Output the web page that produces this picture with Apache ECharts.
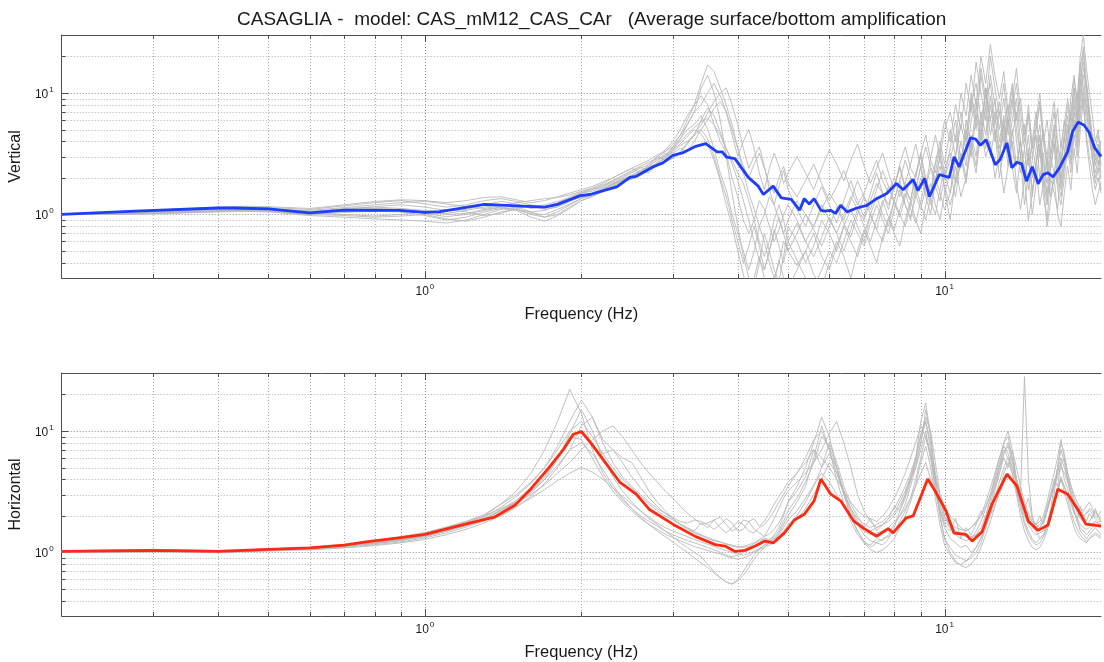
<!DOCTYPE html>
<html>
<head>
<meta charset="utf-8">
<script src="https://cdn.jsdelivr.net/npm/echarts@6/dist/echarts.min.js"></script>
<style>
  html, body { margin: 0; padding: 0; background: #fff; overflow: hidden; }
  #main { width: 1104px; height: 662px; }
</style>
</head>
<body>
<div id="main"></div>
<script>
// ---- labels ----
const titleText = 'CASAGLIA -  model: CAS_mM12_CAS_CAr   (Average surface/bottom amplification';
const freqAxisName = 'Frequency (Hz)';
const panelNames = ['Vertical', 'Horizontal'];

// ---- axis ranges and grid positions (log axes) ----
const freqRange = [0.2, 20];
const ampRange = [0.3, 30];
const decades = [1, 10];
const freqGridLines = [0.3, 0.4, 0.5, 0.6, 0.7, 0.8, 0.9, 1, 2, 3, 4, 5, 6, 7, 8, 9, 10];
const ampGridLines = [0.4, 0.5, 0.6, 0.7, 0.8, 0.9, 1, 2, 3, 4, 5, 6, 7, 8, 9, 10, 20];

// ---- average amplification curves [frequency Hz, amplification] ----
const verticalMean = [
  [0.2, 1.0], [0.277, 1.065], [0.4, 1.13], [0.43, 1.13], [0.5, 1.11], [0.6, 1.03], [0.7, 1.085],
  [0.89, 1.08], [1.0, 1.04], [1.063, 1.05], [1.3, 1.21], [1.7, 1.15], [1.8, 1.21], [1.99, 1.43],
  [2.08, 1.46], [2.24, 1.6], [2.34, 1.69], [2.48, 2.02], [2.55, 2.06], [2.75, 2.47], [2.87, 2.66],
  [3.0, 3.07], [3.13, 3.21], [3.32, 3.64], [3.47, 3.83], [3.65, 3.28], [3.73, 3.28], [3.81, 2.96],
  [3.95, 2.88], [4.19, 2.02], [4.38, 1.71], [4.48, 1.46], [4.68, 1.71], [4.85, 1.37], [5.07, 1.33],
  [5.26, 1.085], [5.37, 1.35], [5.49, 1.22], [5.61, 1.35], [5.78, 1.085], [5.86, 1.065], [6.04, 1.08],
  [6.17, 1.02], [6.31, 1.19], [6.49, 1.05], [6.78, 1.13], [7.09, 1.19], [7.4, 1.35], [7.74, 1.49],
  [8.08, 1.8], [8.32, 1.6], [8.7, 1.94], [8.89, 1.57], [9.15, 1.98], [9.35, 1.4], [9.77, 2.13],
  [10.21, 2.02], [10.43, 2.98], [10.67, 2.47], [11.22, 4.27], [11.47, 4.18], [11.72, 3.71], [12.02, 4.13],
  [12.52, 2.57], [12.79, 2.83], [13.18, 3.88], [13.47, 2.42], [13.77, 2.69], [14.07, 2.61], [14.38, 1.88],
  [14.75, 2.47], [15.14, 1.79], [15.47, 2.13], [15.81, 2.2], [16.17, 2.04], [16.64, 2.42], [17.26, 3.31],
  [17.64, 4.83], [18.08, 5.77], [18.56, 5.42], [18.97, 4.75], [19.45, 3.53], [20.0, 3.0]
];
const horizontalMean = [
  [0.2, 1.02], [0.3, 1.04], [0.4, 1.02], [0.5, 1.06], [0.6, 1.09], [0.7, 1.15], [0.77, 1.22],
  [0.89, 1.32], [1.0, 1.41], [1.11, 1.58], [1.23, 1.76], [1.36, 1.95], [1.49, 2.45], [1.6, 3.35],
  [1.72, 4.8], [1.85, 7.1], [1.93, 9.4], [2.0, 9.9], [2.08, 8.1], [2.21, 5.7], [2.37, 3.8],
  [2.55, 3.02], [2.7, 2.27], [3.0, 1.71], [3.32, 1.35], [3.62, 1.16], [3.78, 1.13], [3.95, 1.02],
  [4.13, 1.04], [4.32, 1.13], [4.51, 1.24], [4.68, 1.2], [4.92, 1.45], [5.14, 1.85], [5.37, 2.06],
  [5.61, 2.66], [5.78, 4.02], [6.04, 3.02], [6.31, 2.66], [6.69, 1.81], [6.99, 1.58], [7.4, 1.36],
  [7.79, 1.57], [7.96, 1.45], [8.44, 1.93], [8.7, 2.0], [9.28, 4.02], [9.63, 3.11], [10.06, 2.2],
  [10.43, 1.44], [10.98, 1.41], [11.3, 1.24], [11.81, 1.48], [12.34, 2.5], [13.18, 4.42], [13.77, 3.54],
  [14.49, 1.81], [15.14, 1.52], [15.81, 1.68], [16.52, 3.32], [17.26, 3.02], [18.04, 2.27], [18.7, 1.71],
  [19.39, 1.68], [20.0, 1.65]
];

// ---- individual records, sampled at spectrumFreqs ----
const spectrumFreqs = [
  0.2, 0.25, 0.3, 0.35, 0.4, 0.45, 0.5,
  0.6, 0.7, 0.8, 0.9, 1.0, 1.1, 1.2, 1.3, 1.4, 1.5, 1.6, 1.7, 1.8, 1.9, 2.0, 2.1, 2.2, 2.3, 2.4,
  2.5, 2.6, 2.7, 2.8, 2.9, 3.0, 3.1, 3.2, 3.3, 3.4, 3.5, 3.6, 3.7, 3.8, 3.9, 4.0, 4.1, 4.2, 4.3, 4.4, 4.5, 4.6, 4.7, 4.8, 4.9, 5.0,
  5.2, 5.4, 5.6, 5.8, 6.0, 6.2, 6.4, 6.6, 6.8, 7.0, 7.2, 7.4, 7.6, 7.8, 8.0, 8.2, 8.4, 8.6, 8.8, 9.0, 9.2, 9.4, 9.6, 9.8, 10.0,
  10.25, 10.5, 10.75, 11.0, 11.25, 11.5, 11.75, 12.0, 12.25, 12.5, 12.75, 13.0, 13.25, 13.5, 13.75, 14.0, 14.25, 14.5, 14.75, 15.0,
  15.25, 15.5, 15.75, 16.0, 16.25, 16.5, 16.75, 17.0, 17.25, 17.5, 17.75, 18.0, 18.25, 18.5, 18.75, 19.0, 19.25, 19.5, 19.75, 20.0
];

const vertRec1 = [
  1.0, 1.02, 1.05, 1.08, 1.1, 1.12, 1.1,
  1.05, 1.1, 1.12, 1.1, 1.05, 1.02, 1.08, 1.15, 1.2, 1.18, 1.15, 1.2, 1.28, 1.35, 1.5, 1.55, 1.7, 1.85, 2.0,
  2.2, 2.4, 2.6, 3.0, 3.4, 4.0, 5.0, 6.5, 8.0, 9.5, 8.0, 5.5, 4.0, 3.2, 2.0, 1.4, 0.9, 0.7, 0.9, 1.3, 1.1, 0.8, 0.6, 0.75, 1.0, 1.2,
  0.9, 0.6, 0.8, 1.2, 0.9, 0.7, 1.0, 1.4, 1.1, 0.9, 1.3, 1.8, 1.5, 1.2, 1.7, 2.4, 1.6, 1.3, 2.2, 3.0, 1.8, 1.4, 2.6, 3.5, 2.2,
  1.5, 3.0, 5.5, 3.5, 8.0, 12, 6.0, 10, 4.5, 7.0, 3.0, 5.0, 8.0, 3.5, 2.5, 4.0, 2.0, 3.0, 1.6, 2.5,
  4.5, 2.0, 1.5, 3.0, 2.2, 1.8, 3.5, 6.0, 4.0, 9.0, 14, 8.0, 18, 10, 6.0, 4.0, 3.0, 2.2, 2.8, 2.0
];
const vertRec2 = [
  1.0, 1.01, 1.03, 1.05, 1.07, 1.08, 1.07,
  1.0, 0.98, 0.95, 0.97, 1.0, 0.92, 0.88, 0.95, 1.05, 1.1, 1.0, 0.95, 1.05, 1.2, 1.35, 1.45, 1.6, 1.8, 1.9,
  2.0, 2.2, 2.5, 2.9, 3.3, 3.8, 4.5, 5.5, 7.0, 11, 14, 10, 6.0, 3.0, 1.5, 0.8, 0.45, 0.3, 0.25, 0.4, 0.7, 0.5, 0.35, 0.28, 0.45, 0.8,
  0.6, 0.4, 0.55, 0.9, 0.7, 0.5, 0.8, 1.1, 0.8, 0.6, 1.0, 1.4, 1.0, 0.8, 1.3, 1.9, 1.2, 0.9, 1.6, 2.5, 1.4, 1.0, 1.9, 3.0, 1.6,
  0.9, 2.0, 4.0, 2.5, 6.0, 9.0, 4.0, 7.5, 3.0, 5.0, 2.0, 3.5, 6.0, 2.5, 1.5, 3.0, 1.2, 2.2, 1.0, 1.8,
  3.5, 1.4, 0.9, 2.0, 1.5, 1.1, 2.5, 4.5, 3.0, 7.0, 11, 6.0, 13, 7.5, 4.5, 3.0, 2.2, 1.6, 2.0, 1.5
];
const vertRec3 = [
  1.0, 1.03, 1.07, 1.1, 1.13, 1.15, 1.14,
  1.1, 1.18, 1.25, 1.3, 1.22, 1.15, 1.2, 1.3, 1.35, 1.28, 1.2, 1.15, 1.22, 1.35, 1.5, 1.6, 1.7, 1.9, 2.1,
  2.3, 2.5, 2.7, 2.9, 3.0, 3.2, 3.5, 3.3, 4.0, 5.0, 6.0, 7.5, 8.5, 7.0, 5.0, 3.5, 2.5, 2.0, 2.6, 3.2, 2.4, 1.8, 1.5, 2.0, 2.5, 1.8,
  1.4, 1.9, 2.6, 1.8, 1.3, 1.7, 2.3, 1.6, 1.2, 1.5, 2.1, 2.8, 1.9, 1.5, 2.0, 1.4, 1.8, 2.6, 3.8, 2.4, 1.7, 2.9, 4.5, 3.0, 2.0,
  3.5, 6.0, 2.8, 4.5, 9.0, 5.0, 16, 9.0, 12, 5.5, 8.5, 4.0, 6.5, 11, 5.0, 3.0, 5.5, 2.5, 4.0, 7.0,
  3.0, 5.0, 2.2, 3.5, 5.5, 2.6, 2.0, 3.2, 5.5, 3.5, 8.0, 5.0, 12, 22, 9.0, 6.0, 3.5, 2.5, 3.0, 4.0
];
const vertRec4 = [
  1.0, 1.0, 1.01, 1.03, 1.05, 1.06, 1.05,
  0.98, 0.95, 0.92, 0.9, 0.88, 0.85, 0.9, 1.0, 1.1, 1.15, 1.05, 0.95, 1.0, 1.15, 1.3, 1.4, 1.55, 1.7, 1.85,
  1.95, 2.1, 2.3, 2.6, 3.0, 3.6, 4.2, 5.0, 5.5, 6.5, 5.0, 3.5, 2.2, 1.6, 1.0, 0.7, 0.5, 0.35, 0.5, 0.8, 0.6, 0.4, 0.3, 0.4, 0.6, 0.5,
  0.38, 0.5, 0.7, 0.45, 0.35, 0.55, 0.8, 0.6, 0.45, 0.7, 1.0, 0.75, 0.6, 0.9, 1.3, 1.0, 0.8, 1.2, 1.7, 1.2, 0.9, 1.4, 2.0, 1.5, 1.1,
  1.5, 2.5, 1.4, 2.0, 3.5, 2.2, 5.0, 3.0, 4.0, 2.0, 3.0, 1.5, 2.5, 4.0, 1.8, 1.1, 2.0, 0.9, 1.5, 2.5,
  1.2, 1.8, 0.8, 1.3, 2.0, 1.0, 0.8, 1.5, 2.5, 1.6, 3.5, 2.2, 5.0, 9.0, 4.0, 2.5, 1.6, 1.2, 1.5, 1.8
];
const vertRec5 = [
  1.0, 1.04, 1.08, 1.12, 1.15, 1.17, 1.16,
  1.12, 1.2, 1.28, 1.32, 1.3, 1.25, 1.3, 1.38, 1.4, 1.32, 1.25, 1.3, 1.4, 1.5, 1.6, 1.7, 1.85, 2.0, 2.2,
  2.4, 2.6, 2.8, 3.1, 3.3, 3.6, 4.5, 6.0, 8.0, 12, 17, 15, 11, 8.0, 5.5, 3.5, 2.2, 1.5, 1.1, 0.8, 1.0, 1.4, 1.2, 0.9, 0.7, 0.9,
  1.3, 1.0, 0.8, 1.1, 1.5, 1.2, 0.9, 1.3, 1.9, 1.4, 1.1, 1.6, 2.3, 1.7, 1.3, 1.9, 2.8, 2.0, 1.6, 2.5, 3.6, 2.5, 1.9, 3.0, 5.0,
  7.0, 4.0, 10, 6.5, 14, 8.0, 20, 12, 25, 14, 9.0, 15, 7.0, 12, 6.0, 9.0, 4.5, 7.0, 3.5, 5.0,
  8.0, 4.0, 6.0, 3.0, 4.5, 7.5, 3.5, 5.5, 9.0, 6.0, 13, 9.0, 20, 30, 16, 10, 6.5, 4.0, 5.0, 3.0
];
const vertRec6 = [
  1.0, 1.02, 1.04, 1.06, 1.08, 1.1, 1.1,
  1.06, 1.12, 1.15, 1.12, 1.08, 1.0, 1.02, 1.1, 1.15, 1.1, 1.05, 1.08, 1.18, 1.3, 1.42, 1.5, 1.62, 1.78, 1.95,
  2.1, 2.3, 2.5, 2.8, 3.1, 3.5, 4.0, 4.6, 5.2, 5.8, 6.2, 5.5, 4.5, 3.5, 2.8, 2.2, 1.8, 1.3, 0.9, 0.6, 0.45, 0.6, 0.9, 1.2, 0.9, 0.6,
  0.42, 0.3, 0.25, 0.35, 0.5, 0.4, 0.6, 0.9, 0.7, 0.55, 0.85, 1.2, 0.9, 0.7, 1.1, 1.6, 1.2, 0.95, 1.4, 2.0, 1.5, 1.2, 1.8, 2.5, 1.7,
  1.2, 1.8, 3.2, 2.0, 4.5, 3.0, 7.0, 4.5, 9.5, 5.0, 3.5, 6.0, 3.0, 5.0, 2.5, 4.0, 2.0, 3.2, 1.5, 2.6,
  3.8, 1.8, 3.0, 1.4, 2.2, 3.5, 1.6, 2.6, 4.0, 2.8, 6.0, 4.0, 9.0, 14, 7.0, 4.5, 3.0, 2.0, 2.5, 3.2
];
const vertRec7 = [
  1.0, 1.01, 1.02, 1.04, 1.06, 1.07, 1.06,
  1.0, 1.04, 1.06, 1.05, 0.98, 0.9, 0.95, 1.05, 1.12, 1.08, 0.95, 0.88, 0.98, 1.12, 1.3, 1.42, 1.55, 1.72, 1.9,
  2.0, 2.15, 2.35, 2.5, 2.7, 2.9, 3.2, 3.8, 4.5, 5.0, 4.2, 3.0, 2.0, 1.4, 0.9, 0.6, 0.4, 0.55, 0.8, 0.55, 0.35, 0.5, 0.75, 0.55, 0.4, 0.6,
  0.85, 0.6, 0.45, 0.65, 0.95, 0.7, 0.5, 0.75, 1.1, 0.8, 0.6, 0.9, 1.3, 0.95, 0.75, 1.1, 1.5, 1.1, 0.85, 1.3, 1.9, 1.3, 1.0, 1.6, 2.4,
  3.2, 1.8, 2.6, 5.0, 3.0, 6.5, 3.8, 11, 6.0, 4.0, 7.0, 3.5, 5.5, 9.0, 4.0, 2.2, 3.5, 1.6, 2.8, 4.5,
  2.0, 3.2, 1.3, 2.4, 4.0, 1.9, 1.4, 2.4, 4.0, 2.6, 5.5, 3.5, 7.5, 11, 12, 7.0, 4.0, 2.8, 3.5, 2.5
];
const vertRec8 = [
  1.0, 1.02, 1.04, 1.07, 1.1, 1.11, 1.1,
  1.08, 1.14, 1.2, 1.25, 1.28, 1.22, 1.16, 1.12, 1.18, 1.25, 1.3, 1.35, 1.38, 1.45, 1.55, 1.65, 1.8, 2.0, 2.2,
  2.4, 2.2, 2.6, 3.0, 2.8, 3.4, 4.2, 5.5, 7.0, 8.0, 10, 12, 9.5, 7.0, 4.5, 3.0, 4.0, 5.0, 3.5, 2.2, 1.6, 2.4, 3.2, 2.5, 1.8, 2.2,
  3.0, 2.2, 1.6, 2.4, 3.4, 2.6, 1.9, 2.8, 3.8, 2.5, 1.8, 2.4, 3.2, 2.2, 1.6, 2.6, 3.6, 2.4, 2.0, 3.2, 4.5, 2.8, 2.2, 3.5, 6.0,
  4.0, 8.0, 5.0, 12, 7.0, 18, 10, 6.0, 14, 8.0, 5.0, 9.0, 4.5, 7.5, 12, 5.5, 3.5, 6.5, 3.0, 5.0,
  8.5, 3.8, 2.5, 4.5, 7.0, 3.5, 2.8, 4.5, 8.0, 5.0, 11, 7.0, 16, 24, 12, 7.0, 4.5, 3.5, 4.5, 3.0
];
const vertRec9 = [
  1.0, 1.01, 1.03, 1.05, 1.08, 1.1, 1.09,
  1.03, 1.0, 0.97, 1.0, 1.06, 1.1, 1.05, 0.98, 1.02, 1.12, 1.18, 1.1, 1.15, 1.28, 1.4, 1.5, 1.65, 1.8, 1.95,
  2.1, 2.3, 2.2, 2.6, 3.0, 3.4, 3.8, 4.4, 5.0, 4.6, 3.8, 2.8, 1.9, 1.2, 0.8, 0.5, 0.32, 0.22, 0.3, 0.45, 0.3, 0.2, 0.28, 0.42, 0.3, 0.25,
  0.35, 0.5, 0.32, 0.25, 0.4, 0.6, 0.45, 0.3, 0.5, 0.75, 0.55, 0.4, 0.65, 0.95, 0.7, 0.55, 0.9, 1.3, 0.9, 0.7, 1.2, 1.8, 1.2, 0.9, 1.5,
  2.2, 1.4, 3.0, 1.8, 4.0, 2.5, 6.0, 3.5, 8.0, 4.5, 3.0, 5.5, 2.5, 4.5, 7.0, 3.0, 1.8, 3.5, 1.4, 2.8,
  4.5, 2.0, 1.2, 2.4, 3.8, 1.6, 1.2, 2.0, 3.5, 2.2, 4.5, 3.0, 6.5, 10, 8.0, 5.0, 2.8, 1.8, 2.4, 1.6
];
const vertRec10 = [
  1.0, 1.02, 1.05, 1.09, 1.12, 1.14, 1.12,
  1.04, 1.1, 1.16, 1.2, 1.15, 1.08, 1.1, 1.2, 1.28, 1.22, 1.12, 1.15, 1.25, 1.4, 1.52, 1.62, 1.75, 1.9, 2.05,
  2.25, 2.45, 2.3, 2.7, 3.2, 2.9, 3.3, 3.9, 4.6, 5.5, 6.8, 8.5, 10, 11, 8.0, 5.5, 3.5, 2.4, 3.0, 3.6, 2.5, 1.6, 1.2, 1.7, 2.3, 1.6,
  1.1, 0.8, 1.2, 1.7, 1.2, 0.85, 1.3, 1.9, 1.3, 0.95, 1.5, 2.2, 1.5, 1.1, 1.7, 2.5, 1.7, 1.3, 2.1, 3.2, 2.0, 1.5, 2.7, 4.0, 2.6,
  5.0, 3.0, 7.0, 4.0, 10, 6.0, 14, 7.5, 20, 11, 6.5, 12, 5.5, 9.0, 16, 7.0, 4.0, 8.0, 3.5, 6.0,
  10, 4.5, 3.0, 5.5, 8.5, 4.0, 2.6, 4.0, 6.5, 4.0, 9.0, 6.0, 14, 18, 11, 6.5, 4.0, 3.0, 3.8, 2.6
];
const vertRec11 = [
  1.0, 1.0, 1.02, 1.04, 1.06, 1.08, 1.07,
  1.02, 1.06, 1.1, 1.08, 1.02, 0.96, 1.0, 1.08, 1.14, 1.1, 1.02, 1.0, 1.1, 1.22, 1.36, 1.48, 1.6, 1.75, 1.92,
  2.05, 2.25, 2.45, 2.65, 2.9, 3.3, 3.7, 4.0, 4.5, 6.0, 7.5, 6.5, 4.8, 3.5, 2.6, 1.9, 1.3, 0.9, 0.6, 0.42, 0.35, 0.5, 0.7, 0.95, 0.7, 0.5,
  0.7, 1.0, 0.75, 0.55, 0.8, 1.15, 0.85, 0.65, 1.0, 1.4, 1.0, 0.75, 1.2, 1.7, 1.25, 0.95, 1.4, 2.0, 1.45, 1.1, 1.7, 2.4, 1.7, 1.3, 2.0,
  2.8, 4.5, 2.4, 6.0, 3.5, 8.0, 4.5, 11, 6.0, 9.0, 4.0, 6.5, 3.5, 6.0, 9.0, 4.0, 2.4, 4.5, 2.0, 3.5,
  5.5, 2.6, 1.8, 3.0, 5.0, 2.4, 1.8, 3.0, 5.0, 3.2, 7.0, 4.5, 10, 16, 12, 6.0, 3.8, 2.6, 3.2, 2.2
];

const horRec1 = [
  1.02, 1.03, 1.03, 1.02, 1.02, 1.03, 1.05,
  1.08, 1.13, 1.2, 1.28, 1.38, 1.55, 1.75, 2.0, 2.5, 3.2, 4.5, 7.0, 12, 22, 14, 7.0, 4.5, 3.4, 2.7,
  2.3, 2.0, 1.8, 1.65, 1.5, 1.4, 1.32, 1.25, 1.2, 1.15, 1.1, 1.05, 1.0, 0.95, 0.92, 0.95, 1.0, 1.05, 1.1, 1.2, 1.3, 1.25, 1.3, 1.45, 1.7, 2.0,
  2.6, 3.5, 6.0, 11, 7.0, 4.0, 2.5, 1.8, 1.4, 1.2, 1.15, 1.3, 1.25, 1.4, 1.7, 2.0, 2.5, 3.5, 5.0, 8.0, 15, 9.0, 4.0, 2.2, 1.6,
  1.3, 1.2, 1.1, 1.15, 1.0, 1.1, 1.3, 1.8, 2.5, 3.5, 5.0, 8.0, 9.0, 6.0, 4.0, 2.5, 1.8, 1.5, 1.3, 1.2,
  1.3, 1.4, 1.6, 2.0, 3.0, 5.0, 7.0, 5.5, 4.0, 3.0, 2.2, 1.8, 1.6, 1.5, 1.4, 1.5, 1.6, 1.8, 1.7, 1.6
];
const horRec2 = [
  1.01, 1.02, 1.02, 1.01, 1.01, 1.02, 1.04,
  1.07, 1.12, 1.18, 1.25, 1.35, 1.5, 1.68, 1.85, 2.1, 2.4, 2.8, 3.3, 3.9, 4.5, 5.0, 4.6, 4.0, 3.4, 2.9,
  2.5, 2.2, 1.95, 1.75, 1.6, 1.5, 1.42, 1.35, 1.28, 1.22, 1.17, 1.12, 1.08, 1.04, 1.0, 0.97, 0.95, 0.98, 1.02, 1.08, 1.15, 1.2, 1.3, 1.4, 1.6, 1.85,
  2.2, 2.8, 3.6, 4.5, 3.8, 3.0, 2.4, 2.0, 1.7, 1.5, 1.4, 1.45, 1.5, 1.6, 1.8, 2.0, 2.3, 2.8, 3.5, 4.5, 5.5, 4.0, 3.0, 2.3, 1.8,
  1.6, 1.5, 1.45, 1.4, 1.35, 1.4, 1.5, 1.7, 2.0, 2.5, 3.0, 3.8, 4.5, 4.0, 3.2, 2.5, 2.0, 1.7, 1.5, 1.4,
  1.45, 1.5, 1.7, 2.0, 2.5, 3.2, 4.0, 3.5, 3.0, 2.5, 2.1, 1.9, 1.7, 1.6, 1.55, 1.6, 1.7, 1.8, 1.75, 1.7
];
const horRec3 = [
  1.03, 1.04, 1.05, 1.04, 1.03, 1.05, 1.07,
  1.1, 1.16, 1.24, 1.32, 1.42, 1.6, 1.8, 2.0, 2.3, 2.6, 3.0, 3.6, 4.5, 5.5, 7.0, 8.5, 10, 11, 9.0,
  7.0, 5.5, 4.5, 3.8, 3.2, 2.8, 2.4, 2.1, 1.9, 1.7, 1.75, 1.85, 1.6, 1.45, 1.6, 1.8, 1.7, 1.5, 1.45, 1.6, 1.7, 1.9, 2.2, 2.6, 3.0, 3.5,
  4.5, 5.5, 7.0, 6.0, 5.0, 4.0, 3.2, 2.6, 2.2, 2.0, 1.9, 1.8, 2.0, 2.3, 2.8, 3.5, 4.5, 6.0, 8.0, 11, 9.0, 6.0, 4.0, 3.0, 2.4,
  2.0, 1.8, 1.6, 1.5, 1.6, 1.8, 2.0, 2.4, 3.0, 4.0, 5.5, 7.0, 6.0, 5.0, 3.8, 3.0, 2.4, 2.0, 1.8, 1.7,
  1.6, 1.8, 2.2, 2.8, 3.6, 4.5, 5.5, 6.0, 4.5, 3.5, 2.8, 2.4, 2.2, 2.0, 2.1, 2.3, 2.2, 2.0, 1.9, 1.8
];
const horRec4 = [
  1.02, 1.02, 1.03, 1.03, 1.02, 1.03, 1.05,
  1.08, 1.14, 1.2, 1.28, 1.38, 1.52, 1.7, 1.9, 2.2, 2.6, 3.2, 4.2, 6.0, 9.5, 15, 10, 6.0, 4.2, 3.2,
  2.6, 2.2, 1.9, 1.7, 1.5, 1.35, 1.2, 1.1, 1.0, 0.92, 0.8, 0.7, 0.62, 0.57, 0.55, 0.6, 0.7, 0.82, 0.95, 1.05, 1.15, 1.25, 1.4, 1.6, 2.0, 2.6,
  3.5, 5.0, 8.0, 13, 9.0, 5.0, 3.0, 2.0, 1.5, 1.25, 1.1, 1.2, 1.15, 1.3, 1.6, 2.2, 2.8, 3.8, 6.0, 12, 17, 9.0, 4.0, 2.0, 1.3,
  1.1, 0.95, 0.9, 0.85, 0.9, 1.0, 1.2, 1.6, 2.2, 3.2, 4.5, 6.5, 8.0, 6.0, 4.0, 3.0, 28, 4.0, 2.0, 1.5,
  1.3, 1.4, 1.7, 2.3, 3.5, 5.0, 8.0, 6.5, 4.5, 3.0, 2.2, 1.8, 1.5, 1.4, 1.3, 1.4, 1.5, 1.6, 1.5, 1.4
];
const horRec5 = [
  1.02, 1.03, 1.04, 1.03, 1.03, 1.04, 1.06,
  1.09, 1.15, 1.22, 1.3, 1.4, 1.57, 1.75, 1.95, 2.35, 2.9, 3.7, 5.0, 7.5, 12, 18, 13, 8.5, 7.0, 6.0,
  5.5, 4.2, 3.2, 2.6, 2.2, 1.9, 1.7, 1.55, 1.45, 1.38, 1.3, 1.25, 1.22, 1.18, 1.15, 1.12, 1.1, 1.12, 1.18, 1.25, 1.3, 1.28, 1.35, 1.5, 1.8, 2.2,
  2.8, 3.8, 5.5, 9.0, 7.5, 5.0, 3.2, 2.3, 1.8, 1.6, 1.5, 1.6, 1.7, 1.8, 2.0, 2.4, 3.0, 4.0, 5.5, 8.0, 12, 8.0, 4.5, 2.8, 2.0,
  1.7, 1.5, 1.4, 1.35, 1.3, 1.4, 1.6, 2.0, 2.8, 3.8, 5.0, 6.5, 7.5, 5.5, 4.0, 3.0, 2.3, 1.9, 1.6, 1.5,
  1.6, 1.8, 2.2, 2.8, 3.5, 4.2, 5.0, 4.5, 3.8, 3.0, 2.5, 2.1, 1.9, 1.8, 1.7, 1.8, 2.0, 2.2, 2.0, 1.9
];
const horRec6 = [
  1.03, 1.05, 1.06, 1.05, 1.04, 1.05, 1.07,
  1.1, 1.17, 1.25, 1.35, 1.46, 1.62, 1.8, 2.05, 2.5, 3.0, 3.8, 5.0, 7.0, 10, 12, 9.0, 6.5, 5.0, 4.0,
  3.4, 2.9, 2.5, 2.2, 2.0, 1.85, 1.7, 1.6, 1.5, 1.75, 1.6, 1.85, 1.95, 1.7, 1.5, 1.6, 1.85, 1.8, 1.55, 1.45, 1.35, 1.6, 1.9, 2.3, 2.8, 3.2,
  3.8, 4.5, 5.5, 7.0, 9.5, 12, 8.0, 5.0, 3.0, 2.2, 1.8, 1.6, 1.7, 1.9, 2.1, 2.6, 3.2, 4.2, 6.0, 9.0, 13, 10, 5.5, 3.0, 2.0,
  1.6, 1.4, 1.3, 1.25, 1.3, 1.5, 1.8, 2.3, 3.0, 4.2, 6.0, 8.0, 10, 7.0, 5.0, 3.5, 2.6, 2.1, 1.8, 1.7,
  1.8, 2.0, 2.6, 3.5, 4.5, 6.0, 8.5, 6.0, 4.5, 3.6, 3.0, 2.6, 2.3, 2.2, 2.4, 2.6, 2.3, 2.1, 2.0, 2.2
];
const horRec7 = [
  1.01, 1.01, 1.02, 1.02, 1.01, 1.02, 1.04,
  1.06, 1.1, 1.16, 1.22, 1.32, 1.45, 1.62, 1.82, 2.1, 2.5, 3.1, 4.0, 5.8, 9.0, 8.5, 6.0, 4.2, 3.2, 2.6,
  2.2, 1.9, 1.7, 1.55, 1.42, 1.32, 1.25, 1.18, 1.12, 1.08, 1.04, 1.0, 0.97, 0.93, 0.9, 0.88, 0.9, 0.94, 1.0, 1.06, 1.1, 1.15, 1.2, 1.3, 1.45, 1.6,
  1.9, 2.3, 3.0, 4.0, 5.5, 4.5, 3.2, 2.2, 1.7, 1.4, 1.25, 1.2, 1.3, 1.35, 1.5, 1.8, 2.2, 2.8, 4.0, 6.0, 9.0, 6.5, 3.5, 2.0, 1.3,
  1.0, 0.85, 0.78, 0.75, 0.8, 0.9, 1.1, 1.4, 1.8, 2.4, 3.2, 4.5, 5.5, 4.5, 3.2, 2.3, 1.7, 1.4, 1.25, 1.15,
  1.2, 1.35, 1.6, 2.0, 2.6, 3.4, 4.2, 3.5, 2.8, 2.2, 1.8, 1.55, 1.4, 1.3, 1.25, 1.3, 1.4, 1.45, 1.4, 1.35
];
const horRec8 = [
  1.02, 1.03, 1.03, 1.03, 1.03, 1.04, 1.06,
  1.09, 1.14, 1.2, 1.27, 1.37, 1.5, 1.66, 1.88, 2.2, 2.6, 3.2, 4.0, 5.2, 7.0, 11, 13, 8.0, 5.5, 4.2,
  3.5, 3.0, 2.6, 2.3, 2.1, 1.95, 1.8, 1.75, 1.85, 1.8, 1.7, 1.55, 1.7, 1.9, 1.75, 1.5, 1.55, 1.8, 1.9, 1.65, 1.8, 2.1, 2.5, 2.9, 3.3, 3.8,
  4.5, 6.0, 8.5, 10, 7.0, 4.5, 3.0, 2.3, 1.9, 1.7, 1.6, 1.7, 1.8, 2.0, 2.3, 2.8, 3.5, 4.5, 6.0, 9.5, 12, 7.0, 3.8, 2.5, 1.9,
  1.7, 1.6, 1.55, 1.5, 1.6, 1.75, 2.0, 2.6, 3.4, 4.5, 6.0, 7.5, 6.5, 5.0, 3.6, 2.8, 2.2, 1.9, 1.7, 1.6,
  1.7, 1.9, 2.4, 3.0, 3.8, 4.8, 6.0, 5.0, 4.0, 3.2, 2.6, 2.3, 2.1, 2.0, 2.1, 2.2, 2.1, 1.9, 1.8, 1.8
];
const horRec9 = [
  1.0, 1.0, 1.01, 1.01, 1.0, 1.01, 1.03,
  1.05, 1.09, 1.14, 1.2, 1.28, 1.4, 1.55, 1.75, 2.0, 2.35, 2.9, 3.7, 5.0, 7.0, 8.0, 6.5, 4.8, 3.6, 2.8,
  2.3, 1.95, 1.7, 1.5, 1.35, 1.22, 1.1, 1.0, 0.9, 0.82, 0.75, 0.68, 0.62, 0.57, 0.55, 0.58, 0.65, 0.75, 0.88, 1.0, 1.1, 1.2, 1.3, 1.35, 1.5, 1.7,
  2.0, 2.6, 3.5, 5.0, 6.5, 5.0, 3.0, 2.0, 1.5, 1.2, 1.05, 1.0, 1.05, 1.15, 1.3, 1.6, 2.0, 2.6, 3.6, 5.5, 7.5, 5.0, 2.8, 1.7, 1.15,
  0.95, 0.82, 0.8, 0.85, 0.95, 1.1, 1.3, 1.6, 2.1, 2.8, 3.8, 5.0, 6.0, 4.5, 3.0, 2.0, 1.5, 1.25, 1.1, 1.05,
  1.1, 1.25, 1.5, 1.9, 2.5, 3.2, 4.0, 3.2, 2.5, 2.0, 1.6, 1.4, 1.3, 1.25, 1.2, 1.3, 1.35, 1.4, 1.35, 1.3
];
const horRec10 = [
  1.02, 1.02, 1.03, 1.02, 1.02, 1.03, 1.05,
  1.08, 1.13, 1.19, 1.26, 1.36, 1.5, 1.68, 1.9, 2.25, 2.7, 3.4, 4.4, 6.0, 8.5, 10, 7.5, 6.5, 7.0, 5.5,
  4.2, 3.4, 2.8, 2.4, 2.1, 1.9, 1.72, 1.58, 1.48, 1.4, 1.33, 1.27, 1.22, 1.17, 1.13, 1.1, 1.12, 1.16, 1.2, 1.28, 1.35, 1.42, 1.55, 1.75, 2.1, 2.6,
  3.2, 4.2, 7.0, 5.0, 8.0, 5.5, 3.5, 2.5, 2.0, 1.6, 1.9, 1.5, 1.7, 1.9, 2.4, 2.2, 3.0, 4.0, 5.0, 7.0, 10, 6.0, 3.2, 2.2, 1.7,
  1.5, 1.9, 1.3, 1.6, 1.4, 1.7, 2.2, 1.9, 2.8, 3.5, 4.5, 6.0, 5.0, 7.0, 4.0, 3.2, 2.3, 2.8, 1.9, 1.7,
  2.0, 1.7, 2.2, 3.0, 4.0, 3.5, 5.5, 4.0, 3.3, 2.6, 2.2, 1.9, 2.4, 2.0, 1.8, 2.1, 1.9, 2.3, 2.0, 1.8
];

const verticalRecords = [vertRec1, vertRec2, vertRec3, vertRec4, vertRec5, vertRec6, vertRec7, vertRec8, vertRec9, vertRec10, vertRec11];
const horizontalRecords = [horRec1, horRec2, horRec3, horRec4, horRec5, horRec6, horRec7, horRec8, horRec9, horRec10];

// ---- styling ----
const FONT = '"Liberation Sans", Arial, Helvetica, sans-serif';
const BOX = '#4d4d4d';
const TEXT = '#1a1a1a';
const panels = [
  { top: 35, mean: verticalMean, records: verticalRecords, color: '#1f3dff' },
  { top: 373, mean: horizontalMean, records: horizontalRecords, color: '#ff2a12' }
];
const PLOT_LEFT = 58, PLOT_WIDTH = 1052, PLOT_HEIGHT = 243;

const isDecade = v => decades.some(d => Math.abs(v - d) < 1e-9);
const powerLabel = v => {
  if (!isDecade(v)) return '';
  return '{b|10}{s|' + Math.round(Math.log10(v)) + '}';
};
const powerRich = {
  b: { fontSize: 12, fontFamily: FONT, color: TEXT, padding: [3, 0, 0, 0] },
  s: { fontSize: 8, fontFamily: FONT, color: TEXT, verticalAlign: 'top', padding: [0, 0, 0, 1] }
};

const grids = [], xAxes = [], yAxes = [], series = [];

panels.forEach((p, k) => {
  grids.push({ left: PLOT_LEFT, top: p.top, width: PLOT_WIDTH, height: PLOT_HEIGHT, containLabel: false });

  const xi = xAxes.length;
  xAxes.push({
    type: 'log', gridIndex: k, position: 'bottom', min: freqRange[0], max: freqRange[1], logBase: 10,
    name: freqAxisName, nameLocation: 'middle', nameGap: 28,
    nameTextStyle: { fontSize: 16.5, fontFamily: FONT, color: TEXT },
    axisLine: { show: true, lineStyle: { color: BOX, width: 1 } },
    axisTick: { show: false }, splitLine: { show: false }, minorTick: { show: false },
    axisLabel: { show: true, margin: 5, formatter: powerLabel, rich: powerRich, showMinLabel: true, showMaxLabel: true }
  });
  xAxes.push({
    type: 'log', gridIndex: k, position: 'top', min: freqRange[0], max: freqRange[1], logBase: 10,
    axisLine: { show: true, lineStyle: { color: BOX, width: 1 } },
    axisTick: { show: false }, splitLine: { show: false }, axisLabel: { show: false }
  });

  const yi = yAxes.length;
  yAxes.push({
    type: 'log', gridIndex: k, min: ampRange[0], max: ampRange[1], logBase: 10,
    name: panelNames[k], nameLocation: 'middle', nameGap: 26, nameRotate: 90,
    nameTextStyle: { fontSize: 16, fontFamily: FONT, color: TEXT },
    axisLine: { show: true, lineStyle: { color: BOX, width: 1 } },
    axisTick: { show: false }, splitLine: { show: false },
    axisLabel: { show: true, margin: 8, formatter: powerLabel, rich: powerRich }
  });

  // dotted log grid plus inward ticks on the box edges
  series.push({
    type: 'custom', xAxisIndex: xi, yAxisIndex: yi, z: 1, silent: true, clip: false, animation: false,
    data: freqGridLines.map(f => [f, ampRange[0]]),
    renderItem: (params, api) => {
      const f = api.value(0);
      const b = api.coord([f, ampRange[0]]);
      const t = api.coord([f, ampRange[1]]);
      const x = Math.round(b[0]) + 0.5;
      const major = isDecade(f);
      const tl = major ? 7 : 4;
      return { type: 'group', children: [
        { type: 'line', shape: { x1: x, y1: t[1], x2: x, y2: b[1] },
          style: { stroke: major ? '#8c8c8c' : '#ababab', lineWidth: 1, lineDash: [1, 2] } },
        { type: 'line', shape: { x1: x, y1: b[1], x2: x, y2: b[1] - tl }, style: { stroke: BOX, lineWidth: 1 } },
        { type: 'line', shape: { x1: x, y1: t[1], x2: x, y2: t[1] + tl }, style: { stroke: BOX, lineWidth: 1 } }
      ] };
    }
  });
  series.push({
    type: 'custom', xAxisIndex: xi, yAxisIndex: yi, z: 1, silent: true, clip: false, animation: false,
    data: ampGridLines.map(v => [freqRange[0], v]),
    renderItem: (params, api) => {
      const v = api.value(1);
      const l = api.coord([freqRange[0], v]);
      const r = api.coord([freqRange[1], v]);
      const y = Math.round(l[1]) + 0.5;
      const major = isDecade(v);
      const tl = major ? 7 : 4;
      return { type: 'group', children: [
        { type: 'line', shape: { x1: l[0], y1: y, x2: r[0], y2: y },
          style: { stroke: major ? '#8c8c8c' : '#ababab', lineWidth: 1, lineDash: [1, 2] } },
        { type: 'line', shape: { x1: l[0], y1: y, x2: l[0] + tl, y2: y }, style: { stroke: BOX, lineWidth: 1 } }
      ] };
    }
  });

  p.records.forEach(rec => {
    series.push({
      type: 'line', xAxisIndex: xi, yAxisIndex: yi, z: 2, silent: true, animation: false,
      showSymbol: false, clip: true,
      lineStyle: { color: '#b9b9b9', width: 0.9 },
      data: spectrumFreqs.map((f, i) => [f, rec[i]])
    });
  });

  series.push({
    type: 'line', xAxisIndex: xi, yAxisIndex: yi, z: 3, silent: true, animation: false,
    showSymbol: false, clip: true,
    lineStyle: { color: p.color, width: 2.8 },
    data: p.mean
  });
});

const chart = echarts.init(document.getElementById('main'), null, { renderer: 'canvas' });
chart.setOption({
  backgroundColor: '#ffffff',
  animation: false,
  title: {
    text: titleText, left: 232, top: 5,
    textStyle: { fontSize: 19, fontWeight: 'normal', fontFamily: FONT, color: TEXT }
  },
  grid: grids,
  xAxis: xAxes,
  yAxis: yAxes,
  series: series
});
</script>
</body>
</html>
